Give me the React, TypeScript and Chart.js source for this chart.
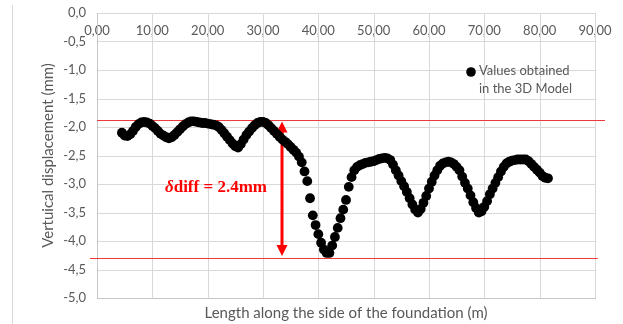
import React, { useEffect, useRef } from 'react';
import { Chart, registerables } from 'chart.js';

Chart.register(...registerables);

// Length along the side of the foundation (m)
const xValues = [
  4.5, 5.0, 5.5, 6.0, 6.5, 7.0, 7.5, 8.0, 8.5, 9.0,
  9.5, 10.0, 10.5, 11.0, 11.5, 12.0, 12.5, 13.0, 13.5, 14.0,
  14.5, 15.0, 15.5, 16.0, 16.5, 17.0, 17.5, 18.0, 18.5, 19.0,
  19.5, 20.0, 20.5, 21.0, 21.5, 22.0, 22.5, 23.0, 23.5, 24.0,
  24.5, 25.0, 25.5, 26.0, 26.5, 27.0, 27.5, 28.0, 28.5, 29.0,
  29.5, 30.0, 30.5, 31.0, 31.5, 32.0, 32.5, 33.0, 33.5, 34.0,
  34.5, 35.0, 35.5, 36.0, 36.5, 37.0, 37.5, 38.0, 38.5, 39.0,
  39.5, 40.0, 40.5, 41.0, 41.5, 42.0, 42.5, 43.0, 43.5, 44.0,
  44.5, 45.0, 45.5, 46.0, 46.5, 47.0, 47.5, 48.0, 48.5, 49.0,
  49.5, 50.0, 50.5, 51.0, 51.5, 52.0, 52.5, 53.0, 53.5, 54.0,
  54.5, 55.0, 55.5, 56.0, 56.5, 57.0, 57.5, 58.0, 58.5, 59.0,
  59.5, 60.0, 60.5, 61.0, 61.5, 62.0, 62.5, 63.0, 63.5, 64.0,
  64.5, 65.0, 65.5, 66.0, 66.5, 67.0, 67.5, 68.0, 68.5, 69.0,
  69.5, 70.0, 70.5, 71.0, 71.5, 72.0, 72.5, 73.0, 73.5, 74.0,
  74.5, 75.0, 75.5, 76.0, 76.5, 77.0, 77.5, 78.0, 78.5, 79.0,
  79.5, 80.0, 80.5, 81.0, 81.5,
];

// Vertical displacement (mm), values obtained in the 3D Model
const yValues = [
  -2.10, -2.15, -2.16, -2.13, -2.07, -2.00, -1.95, -1.92, -1.91, -1.92,
  -1.94, -1.98, -2.02, -2.07, -2.12, -2.15, -2.18, -2.20, -2.18, -2.14,
  -2.09, -2.04, -1.99, -1.95, -1.92, -1.90, -1.90, -1.91, -1.92, -1.93,
  -1.93, -1.94, -1.95, -1.96, -1.97, -2.00, -2.05, -2.11, -2.17, -2.23,
  -2.29, -2.34, -2.36, -2.30, -2.22, -2.14, -2.08, -2.02, -1.97, -1.93,
  -1.91, -1.91, -1.93, -1.97, -2.02, -2.07, -2.12, -2.17, -2.22, -2.26,
  -2.30, -2.35, -2.40, -2.45, -2.52, -2.62, -2.78, -2.95, -3.25, -3.55,
  -3.72, -3.88, -4.03, -4.15, -4.21, -4.21, -4.08, -3.93, -3.77, -3.60,
  -3.45, -3.28, -3.05, -2.88, -2.76, -2.70, -2.67, -2.65, -2.63, -2.62,
  -2.61, -2.60, -2.58, -2.56, -2.55, -2.54, -2.55, -2.58, -2.66, -2.76,
  -2.85, -2.95, -3.04, -3.14, -3.25, -3.36, -3.45, -3.50, -3.44, -3.33,
  -3.21, -3.08, -2.96, -2.85, -2.76, -2.68, -2.64, -2.62, -2.61, -2.62,
  -2.65, -2.70, -2.76, -2.87, -2.98, -3.08, -3.20, -3.32, -3.42, -3.50,
  -3.48, -3.40, -3.30, -3.18, -3.08, -2.98, -2.88, -2.78, -2.70, -2.64,
  -2.61, -2.59, -2.58, -2.57, -2.57, -2.57, -2.57, -2.60, -2.65, -2.70,
  -2.75, -2.80, -2.86, -2.89, -2.90,
];

const xTickLabels = ['0,00', '10,00', '20,00', '30,00', '40,00', '50,00', '60,00', '70,00', '80,00', '90,00'];
const yTickLabels = ['-5,0', '-4,5', '-4,0', '-3,5', '-3,0', '-2,5', '-2,0', '-1,5', '-1,0', '-0,5', '0,0'];

const seriesLabel = ['Values obtained', 'in the 3D Model'];
const xTitle = 'Length along the side of the foundation (m)';
const yTitle = 'Vertuical displacement (mm)';

// Annotation values
const upperLineValue = -1.88;
const lowerLineValue = -4.30;
const upperLineRange = [0, 91.8];
const lowerLineRange = [-1.27, 90.5];
const arrowX = 33.4;
const diffSymbol = 'δ';
const diffText = 'diff = 2.4mm';
const diffTextPos = [21.5, -3.07];

const GRAY_TEXT = '#595959';
const GRID = '#d9d9d9';
const AXIS = '#c6c6c6';
const RED_LINE = '#ee3a3a';
const FONT = 'Lato';

const overlayPlugin = {
  id: 'overlay',
  beforeDatasetsDraw(chart: any) {
    const { ctx, scales, chartArea } = chart;
    const x = scales.x;
    const y = scales.y;
    ctx.save();

    // grid lines from the scales' ticks
    const top = Math.round(chartArea.top);
    const bottom = Math.round(chartArea.bottom);
    const left = Math.round(chartArea.left);
    const right = Math.round(chartArea.right);
    ctx.fillStyle = GRID;
    for (const t of x.ticks) {
      const px = Math.round(x.getPixelForValue(t.value));
      ctx.fillRect(px, top, 1, bottom - top + 1);
    }
    for (const t of y.ticks) {
      const py = Math.round(y.getPixelForValue(t.value));
      ctx.fillRect(left, py, right - left + 1, 1);
    }
    // axis lines (left and bottom slightly darker)
    ctx.fillStyle = AXIS;
    ctx.fillRect(left, top, 1, bottom - top + 1);
    ctx.fillRect(left, bottom, right - left + 1, 1);

    // horizontal reference lines
    ctx.fillStyle = RED_LINE;
    const yTop = Math.round(y.getPixelForValue(upperLineValue));
    const yBot = Math.round(y.getPixelForValue(lowerLineValue));
    const ux0 = x.getPixelForValue(upperLineRange[0]);
    const ux1 = x.getPixelForValue(upperLineRange[1]);
    const lx0 = x.getPixelForValue(lowerLineRange[0]);
    const lx1 = x.getPixelForValue(lowerLineRange[1]);
    ctx.fillRect(ux0, yTop, ux1 - ux0, 1);
    ctx.fillRect(lx0, yBot, lx1 - lx0, 1);

    // double-headed arrow
    const ax = Math.round(x.getPixelForValue(arrowX));
    const tipTop = yTop + 1.5;
    const tipBot = yBot - 2;
    const headLen = 11;
    const headHalf = 5.5;
    ctx.fillStyle = '#ff0000';
    ctx.fillRect(ax - 1.5, tipTop + headLen - 1, 3, tipBot - tipTop - 2 * headLen + 2);
    ctx.beginPath();
    ctx.moveTo(ax, tipTop);
    ctx.lineTo(ax - headHalf, tipTop + headLen);
    ctx.lineTo(ax + headHalf, tipTop + headLen);
    ctx.closePath();
    ctx.fill();
    ctx.beginPath();
    ctx.moveTo(ax, tipBot);
    ctx.lineTo(ax - headHalf, tipBot - headLen);
    ctx.lineTo(ax + headHalf, tipBot - headLen);
    ctx.closePath();
    ctx.fill();

    // difference text
    const tx = x.getPixelForValue(diffTextPos[0]);
    const ty = y.getPixelForValue(diffTextPos[1]);
    const symFont = 'italic bold 17px "Liberation Serif", serif';
    const txtFont = 'bold 17px "Liberation Serif", serif';
    ctx.font = symFont;
    const w1 = ctx.measureText(diffSymbol).width;
    ctx.font = txtFont;
    const w2 = ctx.measureText(diffText).width;
    const startX = tx - (w1 + w2) / 2;
    ctx.textBaseline = 'middle';
    ctx.textAlign = 'left';
    ctx.font = symFont;
    ctx.fillText(diffSymbol, startX, ty);
    ctx.font = txtFont;
    ctx.fillText(diffText, startX + w1, ty);
    ctx.restore();
  },
  afterDraw(chart: any) {
    const { ctx, chartArea } = chart;
    ctx.save();
    // legend
    const dotX = chartArea.right - 124;
    const dotY = chartArea.top + 59;
    ctx.fillStyle = '#000';
    ctx.beginPath();
    ctx.arc(dotX, dotY, 4.8, 0, Math.PI * 2);
    ctx.fill();
    ctx.fillStyle = GRAY_TEXT;
    ctx.font = `13px ${FONT}`;
    ctx.textBaseline = 'middle';
    ctx.textAlign = 'left';
    ctx.fillText(seriesLabel[0], dotX + 8, dotY - 1);
    ctx.fillText(seriesLabel[1], dotX + 8, dotY + 17);

    // x axis title
    ctx.font = `15px ${FONT}`;
    ctx.textAlign = 'center';
    ctx.fillText(xTitle, (chartArea.left + chartArea.right) / 2, 313);

    // outer chart border (left edge)
    ctx.fillStyle = GRID;
    ctx.fillRect(12, 5, 1, 319);
    ctx.restore();
  },
};

export default function App() {
  const canvasRef = useRef<HTMLCanvasElement | null>(null);

  useEffect(() => {
    const canvas = canvasRef.current;
    if (!canvas) return;
    const points = xValues.map((xv, i) => ({ x: xv, y: yValues[i] }));
    const chart = new Chart(canvas, {
      type: 'scatter',
      data: {
        datasets: [
          {
            label: seriesLabel.join(' '),
            data: points,
            backgroundColor: '#000',
            borderColor: '#000',
            borderWidth: 0,
            pointRadius: 4.9,
            pointHoverRadius: 4.9,
            showLine: false,
          },
        ],
      },
      options: {
        responsive: false,
        animation: false,
        events: [],
        layout: { padding: { left: 12, top: 13, right: 28, bottom: 26 } },
        plugins: {
          legend: { display: false },
          tooltip: { enabled: false },
        },
        scales: {
          x: {
            type: 'linear',
            position: { y: 0 } as any,
            min: 0,
            max: 90,
            grid: { display: false, drawTicks: false },
            border: { display: false },
            ticks: {
              stepSize: 10,
              autoSkip: false,
              maxRotation: 0,
              padding: 10,
              color: GRAY_TEXT,
              font: { family: FONT, size: 13 },
              callback: (_v: any, i: number) => xTickLabels[i],
            },
          },
          y: {
            type: 'linear',
            position: 'left',
            min: -5,
            max: 0,
            grid: { display: false, drawTicks: false },
            border: { display: false },
            ticks: {
              stepSize: 0.5,
              autoSkip: false,
              padding: 11,
              color: GRAY_TEXT,
              font: { family: FONT, size: 13 },
              callback: (_v: any, i: number) => yTickLabels[i],
            },
            title: {
              display: true,
              text: yTitle,
              color: GRAY_TEXT,
              font: { family: FONT, size: 15 },
              padding: { top: 27, bottom: 0 },
            },
            afterFit: (s: any) => {
              s.width = 85;
              s.paddingTop = 0;
              s.paddingBottom = 0;
            },
          },
        },
      },
      plugins: [overlayPlugin],
    });
    return () => chart.destroy();
  }, []);

  return (
    <div style={{ position: 'absolute', left: 0, top: 0, width: 623, height: 324, background: '#fff' }}>
      <canvas ref={canvasRef} width={623} height={324} />
    </div>
  );
}
